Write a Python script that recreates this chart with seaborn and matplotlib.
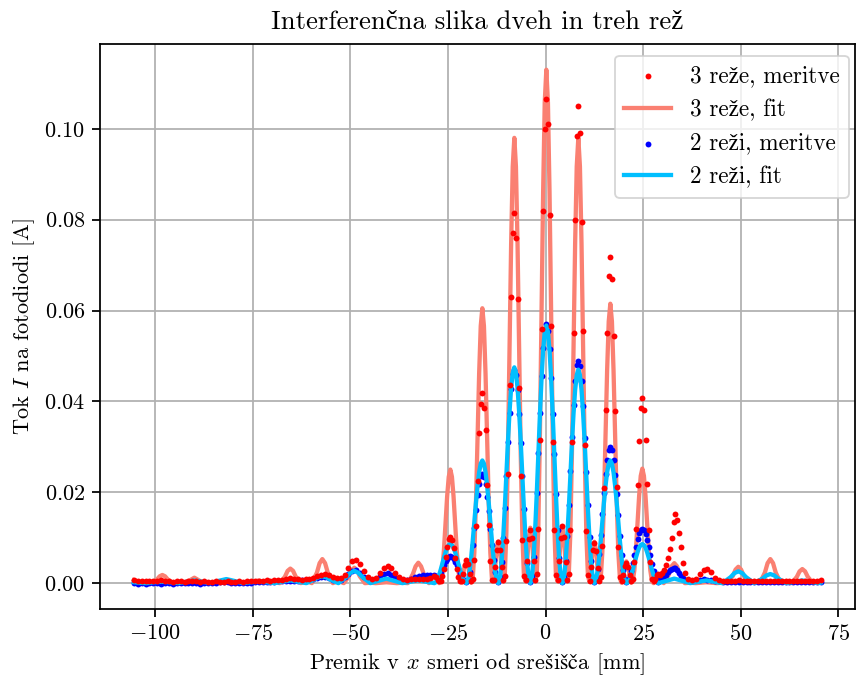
import matplotlib
matplotlib.use("Agg")
import matplotlib.pyplot as plt
import seaborn as sns
import pandas as pd

# --- central region, shared x positions [mm] ---
x_mid = [
    -28.50, -28.09, -27.68, -27.27, -26.86, -26.45, -26.04, -25.63, -25.22, -24.81,
    -24.40, -23.99, -23.58, -23.17, -22.76, -22.35, -21.94, -21.53, -21.12, -20.71,
    -20.30, -19.89, -19.48, -19.07, -18.66, -18.25, -17.84, -17.43, -17.02, -16.61,
    -16.20, -15.79, -15.38, -14.97, -14.56, -14.15, -13.74, -13.33, -12.92, -12.51,
    -12.10, -11.69, -11.28, -10.87, -10.46, -10.05, -9.64, -9.23, -8.82, -8.41,
    -8.00, -7.59, -7.18, -6.77, -6.36, -5.95, -5.54, -5.13, -4.72, -4.31,
    -3.90, -3.49, -3.08, -2.67, -2.26, -1.85, -1.44, -1.03, -0.62, -0.21,
    0.20, 0.61, 1.02, 1.43, 1.84, 2.25, 2.66, 3.07, 3.48, 3.89,
    4.30, 4.71, 5.12, 5.53, 5.94, 6.35, 6.76, 7.17, 7.58, 7.99,
    8.40, 8.81, 9.22, 9.63, 10.04, 10.45, 10.86, 11.27, 11.68, 12.09,
    12.50, 12.91, 13.32, 13.73, 14.14, 14.55, 14.96, 15.37, 15.78, 16.19,
    16.60, 17.01, 17.42, 17.83, 18.24, 18.65, 19.06, 19.47, 19.88, 20.29,
    20.70, 21.11, 21.52, 21.93, 22.34, 22.75, 23.16, 23.57, 23.98, 24.39,
    24.80, 25.21, 25.62, 26.03, 26.44, 26.85, 27.26, 27.67, 28.08, 28.49,
    28.90,
]

fit3_mid = [
    .0015, .0012, .0006, .0000, .0004, .0028, .0073, .0132, .0191, .0234,
    .0250, .0234, .0191, .0132, .0073, .0028, .0004, .0001, .0019, .0040,
    .0049, .0040, .0019, .0001, .0010, .0067, .0176, .0318, .0461, .0566,
    .0605, .0566, .0461, .0318, .0176, .0067, .0010, .0003, .0035, .0075,
    .0092, .0075, .0035, .0003, .0016, .0109, .0285, .0515, .0747, .0917,
    .0980, .0917, .0747, .0515, .0285, .0109, .0016, .0004, .0046, .0099,
    .0122, .0099, .0046, .0004, .0018, .0125, .0329, .0594, .0861, .1058,
    .1130, .1058, .0861, .0594, .0329, .0125, .0018, .0004, .0046, .0099,
    .0122, .0099, .0046, .0004, .0016, .0109, .0285, .0515, .0747, .0917,
    .0980, .0917, .0747, .0515, .0285, .0109, .0016, .0003, .0035, .0074,
    .0091, .0074, .0035, .0003, .0010, .0068, .0179, .0323, .0469, .0576,
    .0615, .0576, .0469, .0323, .0179, .0068, .0010, .0001, .0018, .0039,
    .0048, .0039, .0018, .0001, .0004, .0028, .0073, .0133, .0192, .0236,
    .0252, .0236, .0192, .0133, .0073, .0028, .0004, .0000, .0005, .0011,
    .0014,
]

fit2_mid = [
    .0000, .0002, .0008, .0018, .0030, .0043, .0056, .0068, .0078, .0084,
    .0086, .0084, .0078, .0068, .0056, .0043, .0030, .0018, .0008, .0002,
    .0000, .0007, .0026, .0056, .0093, .0135, .0177, .0214, .0244, .0263,
    .0270, .0263, .0244, .0214, .0177, .0135, .0093, .0056, .0026, .0007,
    .0000, .0012, .0045, .0098, .0164, .0238, .0311, .0377, .0430, .0463,
    .0475, .0463, .0430, .0377, .0311, .0238, .0164, .0098, .0045, .0012,
    .0000, .0014, .0054, .0117, .0196, .0284, .0371, .0450, .0513, .0553,
    .0567, .0553, .0513, .0450, .0371, .0284, .0196, .0117, .0054, .0014,
    .0000, .0012, .0045, .0097, .0162, .0235, .0308, .0373, .0425, .0458,
    .0470, .0458, .0425, .0373, .0308, .0235, .0162, .0097, .0045, .0012,
    .0000, .0007, .0026, .0056, .0093, .0135, .0177, .0214, .0244, .0263,
    .0270, .0263, .0244, .0214, .0177, .0135, .0093, .0056, .0026, .0007,
    .0000, .0002, .0008, .0018, .0030, .0043, .0056, .0068, .0078, .0084,
    .0086, .0084, .0078, .0068, .0056, .0043, .0030, .0018, .0008, .0002,
    .0000,
]

meas3_mid = [
    .0015, .0013, .0008, .0004, .0005, .0015, .0032, .0058, .0080, .0097,
    .0102, .0094, .0078, .0055, .0031, .0013, .0005, .0005, .0021, .0041,
    .0050, .0042, .0020, .0005, .0010, .0050, .0125, .0225, .0330, .0395,
    .0418, .0385, .0338, .0215, .0128, .0049, .0008, .0006, .0036, .0074,
    .0090, .0073, .0036, .0006, .0016, .0093, .0240, .0437, .0630, .0770,
    .0815, .0760, .0625, .0430, .0236, .0095, .0016, .0006, .0048, .0098,
    .0118, .0100, .0048, .0006, .0020, .0120, .0315, .0560, .0820, .1000,
    .1065, .1010, .0810, .0565, .0310, .0118, .0019, .0006, .0049, .0100,
    .0125, .0101, .0047, .0006, .0020, .0118, .0310, .0550, .0800, .0985,
    .1050, .0990, .0795, .0555, .0305, .0115, .0019, .0005, .0035, .0072,
    .0089, .0070, .0034, .0005, .0014, .0082, .0210, .0380, .0550, .0675,
    .0718, .0670, .0545, .0378, .0212, .0080, .0014, .0004, .0019, .0037,
    .0045, .0036, .0018, .0004, .0009, .0047, .0120, .0215, .0312, .0385,
    .0408, .0380, .0315, .0218, .0118, .0046, .0009, .0004, .0010, .0017,
    .0021,
]

meas2_mid = [
    .0018, .0016, .0014, .0015, .0023, .0031, .0040, .0048, .0054, .0058,
    .0059, .0057, .0053, .0047, .0040, .0031, .0022, .0014, .0008, .0004,
    .0003, .0008, .0025, .0052, .0085, .0122, .0160, .0193, .0219, .0236,
    .0240, .0233, .0218, .0190, .0158, .0120, .0085, .0050, .0024, .0008,
    .0003, .0013, .0047, .0099, .0165, .0236, .0310, .0375, .0427, .0460,
    .0470, .0458, .0426, .0372, .0308, .0235, .0163, .0098, .0045, .0013,
    .0003, .0015, .0057, .0119, .0199, .0287, .0375, .0455, .0518, .0558,
    .0570, .0556, .0515, .0452, .0372, .0285, .0197, .0118, .0055, .0015,
    .0003, .0014, .0049, .0103, .0172, .0247, .0322, .0392, .0445, .0480,
    .0490, .0478, .0444, .0390, .0320, .0245, .0171, .0102, .0048, .0013,
    .0003, .0010, .0031, .0065, .0106, .0152, .0198, .0240, .0272, .0294,
    .0300, .0292, .0272, .0238, .0196, .0150, .0104, .0063, .0030, .0010,
    .0003, .0006, .0014, .0027, .0044, .0062, .0080, .0097, .0110, .0118,
    .0120, .0117, .0109, .0096, .0079, .0061, .0043, .0026, .0014, .0006,
    .0003,
]

# --- 3 slits, fit: outer parts ---
x_fit3_left = [
    -105.5, -105.0, -103.7, -102.3, -100.9, -99.6, -98.9, -98.2, -97.5, -96.8,
    -95.5, -94.1, -92.7, -91.4, -90.0, -88.6, -87.3, -85.9, -84.5, -81.8,
    -79.1, -76.3, -75.0, -73.6, -72.2, -70.9, -69.5, -68.1, -66.8, -66.1,
    -65.4, -64.7, -64.0, -62.7, -61.3, -59.9, -58.6, -57.9, -57.2, -56.5,
    -55.8, -54.5, -53.1, -51.7, -50.4, -49.7, -49.0, -48.3, -47.6, -46.3,
    -44.9, -43.5, -40.8, -38.1, -36.7, -35.3, -34.0, -33.3, -32.6, -31.9,
    -31.2, -29.9, -29.2,
]
fit3_left = [
    .0007, .0005, .0000, .0002, .0000, .0008, .0015, .0018, .0015, .0008,
    .0000, .0002, .0000, .0005, .0012, .0005, .0000, .0001, .0000, .0001,
    .0000, .0000, .0003, .0006, .0003, .0000, .0002, .0000, .0014, .0027,
    .0032, .0027, .0014, .0000, .0005, .0000, .0023, .0044, .0053, .0044,
    .0023, .0000, .0005, .0000, .0015, .0028, .0034, .0028, .0015, .0000,
    .0001, .0000, .0002, .0000, .0001, .0000, .0020, .0037, .0045, .0037,
    .0020, .0000, .0008,
]
x_fit3_right = [
    29.6, 30.3, 31.6, 32.3, 33.0, 33.7, 34.4, 35.7, 37.1, 38.5,
    41.2, 43.9, 45.3, 46.7, 48.0, 48.7, 49.4, 50.1, 50.8, 52.1,
    53.5, 54.9, 56.2, 56.9, 57.6, 58.3, 59.0, 60.3, 61.7, 63.1,
    64.4, 65.1, 65.8, 66.5, 67.2, 68.5, 69.9, 70.5,
]
fit3_right = [
    .0008, .0000, .0019, .0037, .0044, .0037, .0019, .0000, .0001, .0000,
    .0002, .0000, .0001, .0000, .0016, .0030, .0036, .0030, .0016, .0000,
    .0005, .0000, .0023, .0044, .0053, .0044, .0023, .0000, .0005, .0000,
    .0014, .0026, .0031, .0026, .0014, .0000, .0002, .0001,
]

# --- 2 slits, fit: outer parts ---
x_fit2_left = [
    -105.5, -104.3, -102.3, -100.3, -98.2, -96.2, -94.1, -92.0, -90.0, -88.0,
    -85.9, -83.8, -81.8, -79.8, -77.7, -75.6, -73.6, -71.6, -69.5, -67.4,
    -65.4, -63.4, -61.3, -59.2, -58.2, -57.2, -56.2, -55.2, -53.1, -51.0,
    -50.0, -49.0, -48.0, -47.0, -44.9, -42.8, -40.8, -38.8, -36.7, -34.6,
    -32.6, -30.6,
]
fit2_left = [
    .0002, .0001, .0000, .0002, .0003, .0002, .0000, .0003, .0006, .0003,
    .0000, .0005, .0009, .0005, .0000, .0002, .0003, .0002, .0000, .0003,
    .0006, .0003, .0000, .0008, .0013, .0015, .0013, .0008, .0000, .0014,
    .0023, .0027, .0023, .0014, .0000, .0005, .0010, .0005, .0000, .0003,
    .0006, .0003,
]
x_fit2_right = [
    31.0, 33.0, 35.0, 37.1, 39.2, 41.2, 43.2, 45.3, 47.4, 48.4,
    49.4, 50.4, 51.4, 53.5, 55.6, 56.6, 57.6, 58.6, 59.6, 61.7,
    63.8, 65.8, 67.8, 69.9, 70.5,
]
fit2_right = [
    .0005, .0010, .0005, .0000, .0003, .0006, .0003, .0000, .0013, .0022,
    .0026, .0022, .0013, .0000, .0010, .0017, .0020, .0017, .0010, .0000,
    .0003, .0006, .0003, .0000, .0001,
]

# --- measurements: outer parts ---
x_meas_left = [
    -105.5, -104.5, -103.5, -102.5, -101.5, -100.5, -99.5, -98.5, -97.5, -96.5,
    -95.5, -94.5, -93.5, -92.5, -91.5, -90.5, -89.5, -88.5, -87.5, -86.5,
    -85.5, -84.5, -83.5, -82.5, -81.5, -80.5, -79.5, -78.5, -77.5, -76.5,
    -75.5, -74.5, -73.5, -72.5, -71.5, -70.5, -69.5, -68.5, -67.5, -66.5,
    -65.5, -64.5, -63.5, -62.5, -61.5, -60.5, -59.5, -58.5, -57.5, -56.5,
    -55.5, -54.5, -53.5, -52.5, -51.5, -50.5, -49.5, -48.5, -47.5, -46.5,
    -45.5, -44.5, -43.5, -42.5, -41.5, -40.5, -39.5, -38.5, -37.5, -36.5,
    -35.5, -34.5, -33.5, -32.5, -31.5, -30.5, -29.5,
]
meas3_left = [
    .0006, .0004, .0004, .0005, .0004, .0004, .0005, .0006, .0005, .0004,
    .0003, .0004, .0004, .0003, .0004, .0005, .0004, .0003, .0004, .0003,
    .0003, .0004, .0003, .0003, .0004, .0003, .0003, .0004, .0003, .0004,
    .0004, .0005, .0004, .0005, .0006, .0005, .0006, .0007, .0008, .0009,
    .0011, .0010, .0009, .0008, .0009, .0010, .0012, .0015, .0019, .0021,
    .0018, .0014, .0011, .0012, .0018, .0033, .0048, .0052, .0042, .0026,
    .0014, .0010, .0012, .0022, .0034, .0038, .0033, .0022, .0013, .0009,
    .0008, .0009, .0010, .0010, .0009, .0010, .0012,
]
meas2_left = [
    .0001, -.0001, .0000, -.0001, .0000, .0001, .0000, -.0001, .0000, .0000,
    -.0001, .0000, .0001, .0000, .0000, .0001, .0000, -.0001, .0000, .0000,
    .0001, .0001, .0002, .0002, .0002, .0001, .0000, .0000, .0001, .0001,
    .0001, .0002, .0002, .0002, .0003, .0003, .0003, .0004, .0004, .0004,
    .0004, .0005, .0005, .0006, .0007, .0008, .0010, .0012, .0013, .0013,
    .0011, .0008, .0007, .0008, .0013, .0021, .0027, .0028, .0022, .0014,
    .0009, .0008, .0010, .0016, .0021, .0022, .0018, .0012, .0009, .0008,
    .0008, .0010, .0013, .0016, .0018, .0019, .0019,
]
x_meas_right = [
    29.3, 29.8, 30.3, 30.8, 31.3, 31.8, 32.3, 32.8, 33.3, 33.8,
    34.3, 34.8, 35.3, 35.8, 36.5, 37.5, 38.5, 39.5, 40.5, 41.5,
    42.5, 43.5, 44.5, 45.5, 46.5, 47.5, 48.5, 49.5, 50.5, 51.5,
    52.5, 53.5, 54.5, 55.5, 56.5, 57.5, 58.5, 59.5, 60.5, 61.5,
    62.5, 63.5, 64.5, 65.5, 66.5, 67.5, 68.5, 69.5, 70.5,
]
meas3_right = [
    .0018, .0022, .0028, .0040, .0055, .0075, .0100, .0135, .0152, .0140,
    .0110, .0080, .0045, .0022, .0010, .0007, .0010, .0020, .0030, .0032,
    .0024, .0012, .0007, .0005, .0005, .0004, .0005, .0006, .0005, .0004,
    .0004, .0005, .0004, .0004, .0005, .0005, .0004, .0004, .0005, .0004,
    .0004, .0005, .0004, .0004, .0005, .0004, .0004, .0005, .0008,
]
meas2_right = [
    .0010, .0012, .0015, .0019, .0024, .0028, .0032, .0034, .0033, .0029,
    .0022, .0016, .0011, .0008, .0006, .0005, .0006, .0008, .0009, .0008,
    .0006, .0005, .0004, .0003, .0002, .0003, .0002, .0003, .0003, .0002,
    .0003, .0002, .0002, .0003, .0002, .0003, .0002, .0002, .0003, .0002,
    .0003, .0002, .0002, .0003, .0002, .0002, .0003, .0002, .0003,
]

x_ticks = [-100, -75, -50, -25, 0, 25, 50, 75]
y_ticks = [0.00, 0.02, 0.04, 0.06, 0.08, 0.10]

plt.rcParams.update({
    "font.family": ["cmr10", "Liberation Serif"],
    "mathtext.fontset": "custom",
    "mathtext.rm": "cmr10",
    "mathtext.it": "cmmi10",
    "mathtext.bf": "cmb10",
    "mathtext.fallback": "stix",
    "axes.formatter.use_mathtext": True,
    "axes.unicode_minus": True,
    "font.size": 12,
    "axes.linewidth": 0.95,
    "xtick.major.width": 0.95,
    "ytick.major.width": 0.95,
    "xtick.major.size": 4.2,
    "ytick.major.size": 4.2,
})

fit3 = pd.DataFrame({"x": x_fit3_left + x_mid + x_fit3_right,
                     "y": fit3_left + fit3_mid + fit3_right})
fit2 = pd.DataFrame({"x": x_fit2_left + x_mid + x_fit2_right,
                     "y": fit2_left + fit2_mid + fit2_right})
meas3 = pd.DataFrame({"x": x_meas_left + x_mid + x_meas_right,
                      "y": meas3_left + meas3_mid + meas3_right})
meas2 = pd.DataFrame({"x": x_meas_left + x_mid + x_meas_right,
                      "y": meas2_left + meas2_mid + meas2_right})

fig, ax = plt.subplots(figsize=(858 / 134, 677 / 134), dpi=134)
fig.subplots_adjust(left=0.116, right=0.9965, bottom=0.1, top=0.935)

sns.lineplot(data=fit3, x="x", y="y", color="salmon", lw=2.3, estimator=None,
             sort=False, label="3 reže, fit", ax=ax, zorder=2)
sns.scatterplot(data=meas2, x="x", y="y", color="blue", s=10, linewidth=0,
                label="2 reži, meritve", ax=ax, zorder=2.5)
sns.lineplot(data=fit2, x="x", y="y", color="deepskyblue", lw=2.3, estimator=None,
             sort=False, label="2 reži, fit", ax=ax, zorder=3)
sns.scatterplot(data=meas3, x="x", y="y", color="red", s=10, linewidth=0,
                label="3 reže, meritve", ax=ax, zorder=3.5)

ax.set_xticks(x_ticks)
ax.set_yticks(y_ticks)
ax.yaxis.set_major_formatter(matplotlib.ticker.FormatStrFormatter("$%.2f$"))
ax.grid(True, color="#b0b0b0", lw=0.95)
ax.set_axisbelow(True)

ax.set_title("Interferenčna slika dveh in treh rež", fontsize=14.4, pad=8)
# š and č inside math so mathtext can fall back to STIX for them
ax.set_xlabel(r"Premik v $x$ smeri od sre$\mathrm{š}$i$\mathrm{šč}$a [mm]")
ax.set_ylabel("Tok $I$ na fotodiodi [A]")

handles, labels = ax.get_legend_handles_labels()
order = ["3 reže, meritve", "3 reže, fit", "2 reži, meritve", "2 reži, fit"]
ax.legend([handles[labels.index(l)] for l in order], order,
          loc="upper right", fontsize=12.5, bbox_to_anchor=(1.007, 1.0))

fig.savefig("out.png", dpi=134)
